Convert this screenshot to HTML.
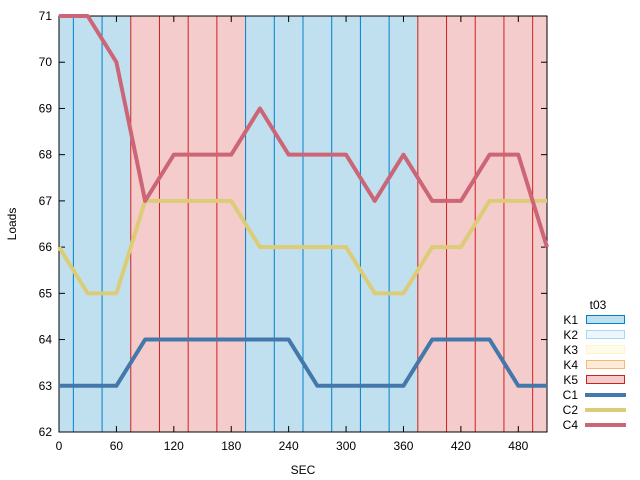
<!DOCTYPE html>
<html><head><meta charset="utf-8"><style>
body{margin:0;background:#fff}
svg{display:block;font-family:"Liberation Sans",sans-serif;font-size:12px}
</style></head><body>
<svg id="chart" width="640" height="480" xmlns="http://www.w3.org/2000/svg"></svg>
<script>
const seconds=[0,30,60,90,120,150,180,210,240,270,300,330,360,390,420,450,480,510];
const c1=[63,63,63,64,64,64,64,64,64,63,63,63,63,64,64,64,63,63];
const c2=[66,65,65,67,67,67,67,66,66,66,66,65,65,66,66,67,67,67];
const c4=[71,71,70,67,68,68,68,69,68,68,68,67,68,67,67,68,68,66];
const bands=[{s:0,e:75,k:'K1'},{s:75,e:195,k:'K5'},{s:195,e:375,k:'K1'},{s:375,e:510,k:'K5'}];
const xTicks=[0,60,120,180,240,300,360,420,480];
const yTicks=[62,63,64,65,66,67,68,69,70,71];
const gridSecs=[15,45,75,105,135,165,195,225,255,285,315,345,375,405,435,465,495];

const L=59,R=547,T=16,B=432,xmin=0,xmax=510,ymin=62,ymax=71;
const X=v=>L+(v-xmin)/(xmax-xmin)*(R-L);
const Y=v=>B-(v-ymin)/(ymax-ymin)*(B-T);
const svg=document.getElementById('chart');
const NS='http://www.w3.org/2000/svg';
function mk(t,a,p){const e=document.createElementNS(NS,t);for(const k in a)e.setAttribute(k,a[k]);(p||svg).appendChild(e);return e;}
const kFill={K1:'#c0e0f0',K5:'#f4cccc'},kLine={K1:'#0080d0',K5:'#d02020'};
bands.forEach(b=>{const r=mk('rect',{x:X(b.s),y:T,width:X(b.e)-X(b.s),height:B-T,fill:kFill[b.k]});

});
gridSecs.forEach(s=>{const b=bands.find(b=>s>=b.s&&s<b.e)||bands[bands.length-1];
const l=mk('line',{x1:X(s),x2:X(s),y1:T,y2:B,stroke:kLine[b.k],'stroke-width':1});

});
const frame=mk('rect',{x:L,y:T,width:R-L,height:B-T,fill:'none',stroke:'#000','stroke-width':1});


yTicks.forEach(v=>{mk('line',{x1:L,x2:L+6,y1:Y(v),y2:Y(v),stroke:'#000'});mk('line',{x1:R,x2:R-6,y1:Y(v),y2:Y(v),stroke:'#000'});
const t=mk('text',{x:L-7,y:Y(v)+4,'text-anchor':'end'});t.textContent=v;

});
xTicks.forEach(v=>{mk('line',{x1:X(v),x2:X(v),y1:B,y2:B-6,stroke:'#000'});mk('line',{x1:X(v),x2:X(v),y1:T,y2:T+6,stroke:'#000'});
const t=mk('text',{x:X(v),y:B+18,'text-anchor':'middle'});t.textContent=v;

});
const xt=mk('text',{x:303,y:474,'text-anchor':'middle'});xt.textContent='SEC';


const yt=mk('text',{x:16,y:224,'text-anchor':'middle',transform:'rotate(-90 16 224)'});yt.textContent='Loads';


const series=[{n:'C1',d:c1,c:'#4477aa'},{n:'C2',d:c2,c:'#ddcc77'},{n:'C4',d:c4,c:'#cc6677'}];
series.forEach(s=>{const p=mk('polyline',{points:s.d.map((v,i)=>X(seconds[i])+','+Y(v)).join(' '),fill:'none',stroke:s.c,'stroke-width':4,'stroke-linejoin':'round'});

});
const lt=mk('text',{x:598,y:309,'text-anchor':'middle'});lt.textContent='t03';


const leg=[['K1','#c0e0f0','#0080d0'],['K2','#eef6fd','#a8d8f8'],['K3','#fefbe8','#fdf4c8'],['K4','#fdebd8','#f8b870'],['K5','#f4cccc','#d02020']];
leg.forEach((k,i)=>{const y=320+i*15;const g=mk('g',{});


mk('rect',{x:586.5,y:y-4.5,width:38,height:8,fill:k[1],stroke:k[2]},g);
const t=mk('text',{x:578,y:y+4,'text-anchor':'end'},g);t.textContent=k[0];});
series.forEach((s,i)=>{const y=395+i*15;const g=mk('g',{});


mk('line',{x1:585,x2:626,y1:y,y2:y,stroke:s.c,'stroke-width':4},g);
const t=mk('text',{x:578,y:y+4,'text-anchor':'end'},g);t.textContent=s.n;});
</script>
</body></html>
